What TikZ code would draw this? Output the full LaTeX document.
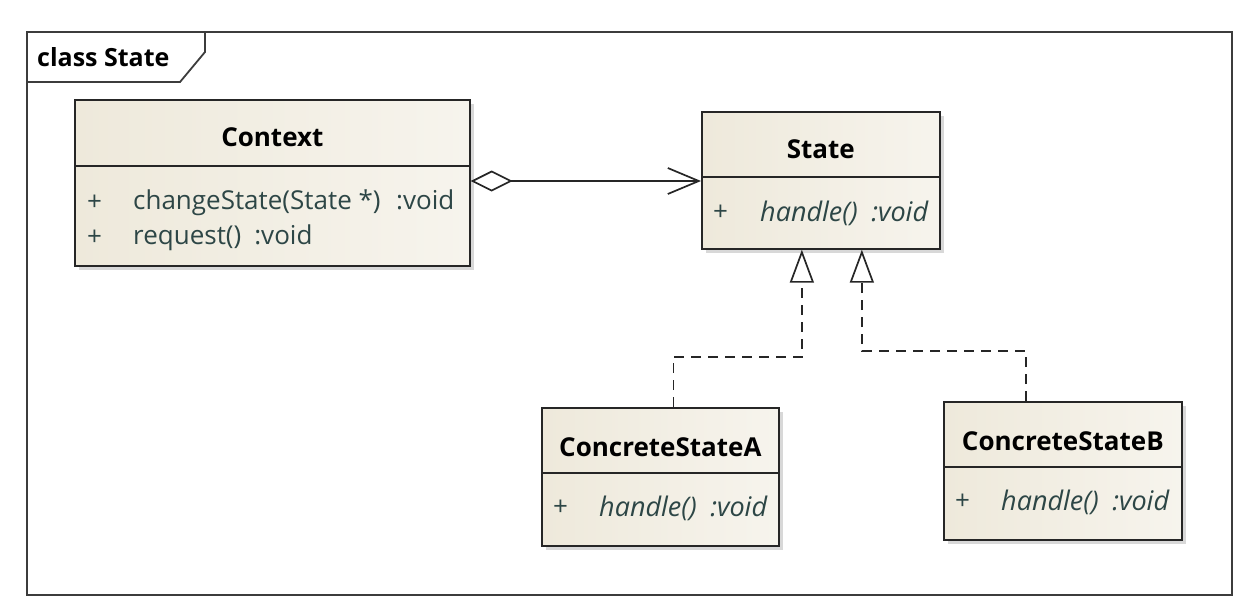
\documentclass[tikz,border=0pt]{standalone}
\usepackage{fontspec}
\setmainfont{Open Sans}
\usetikzlibrary{arrows.meta,shadows,calc,positioning}
\definecolor{clsfill}{RGB}{238,233,219}
\definecolor{opcol}{RGB}{45,70,70}
\definecolor{framecol}{RGB}{60,60,60}
\tikzset{
    cls/.style={draw=black!85,line width=1.7pt,left color=clsfill,right color=clsfill!50!white,
        drop shadow={shadow xshift=4pt,shadow yshift=-4pt,fill=black!30},anchor=north west,inner sep=0pt},
    clsname/.style={font=\bfseries\fontsize{26}{30}\selectfont,text=black,inner sep=0pt},
    oper/.style={font=\fontsize{26}{30}\selectfont,text=opcol,anchor=west,inner sep=0pt},
    operi/.style={oper,font=\itshape\fontsize{27}{31}\selectfont},
    sepline/.style={line width=1.7pt,draw=black!85},
    realize/.style={dash pattern=on 10pt off 7pt,line width=1.7pt,draw=black!85,
        -{Triangle[open,length=33pt,width=24pt,fill=white]}},
}
\begin{document}
\begin{tikzpicture}[x=1pt,y=-1pt]
                \useasboundingbox (0,0) rectangle (1246,614);
                \draw[framecol,line width=1.8pt] (27,32) rectangle (1232,595);
                \draw[framecol,line width=1.8pt] (27,82) -- (180,82) -- (205,52) -- (205,32);
                \node[font=\bfseries\fontsize{25}{29}\selectfont,anchor=west,inner sep=0pt] (frm) at (37,57) {class State};
                \node[cls,minimum width=395pt,minimum height=166pt] (ctx) at (74,99) {};
                \node[cls,minimum width=238pt,minimum height=137pt] (state) at (701,111) {};
                \node[cls,minimum width=237pt,minimum height=138pt] (csa) at (541,407) {};
                \node[cls,minimum width=238pt,minimum height=138pt] (csb) at (943,401) {};
                \draw[sepline] (ctx.west |- 0,166) -- (ctx.east |- 0,166);
                \draw[sepline] (state.west |- 0,177) -- (state.east |- 0,177);
                \draw[sepline] (csa.west |- 0,473) -- (csa.east |- 0,473);
                \draw[sepline] (csb.west |- 0,467) -- (csb.east |- 0,467);
                \node[clsname] (ctxname) at (ctx.north |- 0,137) {Context};
                \node[clsname] (statename) at (state.north |- 0,149) {State};
                \node[clsname] (csaname) at (csa.north |- 0,447) {ConcreteStateA};
                \node[clsname] (csbname) at (csb.north |- 0,441) {ConcreteStateB};
                \node[oper] at (87,203) {+};
                \node[oper] (ctxop1) at (133,203) {changeState(State *)\hspace{0.6em}:void};
                \node[oper] at (87,238) {+};
                \node[oper] (ctxop2) at (133,238) {request()\hspace{0.5em}:void};
                \node[oper] at (713,213) {+};
                \node[operi] (stateop) at (760,213) {handle()\hspace{0.5em}:void};
                \node[oper] at (553,508) {+};
                \node[operi] (csaop) at (599,508) {handle()\hspace{0.5em}:void};
                \node[oper] at (955,502) {+};
                \node[operi] (csbop) at (1001,502) {handle()\hspace{0.5em}:void};
                \draw[line width=1.7pt,draw=black!85,
                    {Diamond[open,length=42pt,width=21pt,fill=white]}-{Straight Barb[length=31pt,width=26pt]}]
                    (ctx.east |- 0,181) -- (state.west |- 0,181);
                \draw[realize] ($(csa.north)+(13,0)$) -- ($(csa.north)+(13,-50)$) -| ($(state.south)+(-19,0)$);
                \draw[realize] ($(csb.north)+(-37,0)$) -- ($(csb.north)+(-37,-50)$) -| ($(state.south)+(41,0)$);
\end{tikzpicture}
\end{document}
